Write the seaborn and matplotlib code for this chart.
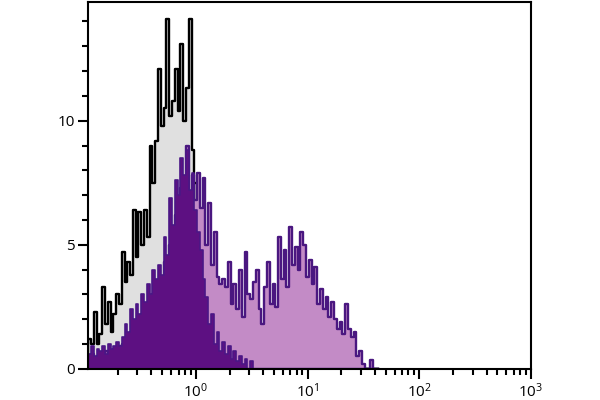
import numpy as np
import pandas as pd
import matplotlib
matplotlib.use("Agg")
import matplotlib.pyplot as plt
import seaborn as sns
from matplotlib.ticker import LogLocator, MultipleLocator

# histogram counts, one value per channel bin
# (bins are equal steps in log10 space, starting at the left edge of the plot)
isotype_counts = [1.2, 1.0, 2.3, 1.0, 1.4, 3.3, 1.8, 2.7, 1.5, 2.2,
                  3.0, 2.6, 4.7, 3.5, 4.3, 3.8, 6.4, 4.5, 6.3, 5.0,
                  6.4, 5.3, 9.0, 7.5, 9.2, 12.1, 9.8, 10.5, 14.1, 10.2,
                  10.8, 12.1, 10.4, 13.1, 10.0, 11.3, 14.1, 8.8, 7.5, 5.5,
                  4.0, 3.0, 2.2, 1.5, 1.0, 0.6, 0.3, 0.1]

stained_counts = [0.4, 0.6, 0.3, 0.5, 0.6, 0.4, 0.7, 0.5, 0.6, 0.8,
                  0.7, 0.9, 1.0, 1.2, 1.1, 1.5, 1.4, 1.8, 1.6, 2.2,
                  2.0, 2.6, 2.4, 3.0, 2.8, 3.5, 3.2, 4.3, 3.9, 5.0,
                  4.8, 6.2, 5.6, 7.3, 6.5, 9.0, 7.0, 7.8, 6.8, 7.9,
                  6.5, 7.7, 5.0, 6.7, 4.2, 5.5, 3.7, 3.4, 3.6, 3.3,
                  4.3, 2.6, 3.4, 2.4, 4.0, 2.1, 4.7, 3.0, 2.8, 3.5,
                  4.0, 2.4, 1.8, 3.3, 4.3, 2.6, 3.4, 2.5, 5.3, 3.6,
                  4.8, 3.3, 5.7, 4.2, 4.9, 4.0, 5.5, 5.0, 3.7, 4.4,
                  3.4, 4.1, 2.6, 3.2, 2.4, 2.9, 2.1, 2.7, 2.0, 1.6,
                  1.9, 1.4, 2.6, 1.6, 1.3, 1.5, 0.5, 0.7, 0.2, 0.0,
                  0.0, 0.35, 0.0, 0.0]

negative_counts = [0.6, 0.9, 0.5, 0.8, 0.7, 0.9, 0.6, 1.0, 0.8, 0.9,
                   1.1, 0.9, 1.3, 1.8, 1.5, 2.4, 2.0, 2.6, 2.2, 3.0,
                   2.7, 3.4, 3.0, 4.0, 3.6, 4.2, 3.8, 5.3, 4.6, 6.9,
                   5.8, 7.6, 7.0, 8.5, 7.8, 8.8, 7.2, 7.9, 6.4, 5.5,
                   4.8, 3.6, 2.9, 1.8, 2.2, 1.0, 1.5, 0.7, 1.1, 0.6,
                   0.9, 0.4, 0.7, 0.3, 0.5, 0.2, 0.4, 0.0, 0.3, 0.0]

x_ticks = [1, 10, 100, 1000]
y_ticks = [0, 5, 10]

n_bins = len(stained_counts)
log_start, log_step = -0.964, 0.025
edges = np.logspace(log_start, log_start + log_step * n_bins, n_bins + 1)
centers = np.sqrt(edges[:-1] * edges[1:])


def pad(counts):
    return np.concatenate([counts, np.zeros(n_bins - len(counts))])


df = pd.DataFrame({
    "channel": centers,
    "isotype": pad(isotype_counts),
    "stained": stained_counts,
    "negative": pad(negative_counts),
})

sns.set_style("ticks")
plt.rcParams["font.family"] = ["Open Sans", "DejaVu Sans"]

fig, ax = plt.subplots(figsize=(6, 4), dpi=100)
fig.subplots_adjust(left=0.147, right=0.885, bottom=0.078, top=0.996)

# seaborn compares bins with "auto", so hand it a plain list
bin_list = list(edges)
sns.histplot(data=df, x="channel", weights="isotype", bins=bin_list, element="step",
             fill=True, color="#e0e0e0", edgecolor="black", linewidth=1.7,
             alpha=1, ax=ax)
sns.histplot(data=df, x="channel", weights="stained", bins=bin_list, element="step",
             fill=True, color="#c38bc6", edgecolor="#4a1780", linewidth=1.7,
             alpha=1, ax=ax)
sns.histplot(data=df, x="channel", weights="negative", bins=bin_list, element="step",
             fill=True, color="#5d1082", edgecolor="#4a1786", linewidth=1.2,
             alpha=1, ax=ax)

ax.set_xscale("log")
ax.set_xlim(10 ** log_start, 1000)
ax.set_ylim(0, 14.8)
ax.set_xticks(x_ticks)
ax.xaxis.set_minor_locator(LogLocator(base=10, subs=np.arange(2, 10)))
ax.set_yticks(y_ticks)
ax.yaxis.set_minor_locator(MultipleLocator(1))
ax.set_xlabel("")
ax.set_ylabel("")

for s in ax.spines.values():
    s.set_linewidth(1.5)
    s.set_color("black")
ax.tick_params(which="major", length=7.5, width=1.5, labelsize=11, pad=2,
               color="black", labelcolor="black")
ax.tick_params(which="minor", length=4.5, width=1.5, color="black")

fig.savefig("out.png", dpi=100)
